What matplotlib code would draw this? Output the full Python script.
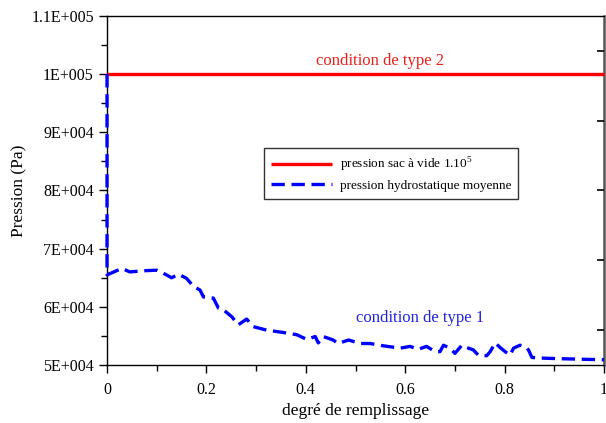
import matplotlib
matplotlib.use('Agg')
import matplotlib.pyplot as plt
from matplotlib.ticker import MultipleLocator, FuncFormatter, NullLocator

plt.rcParams['font.family'] = ['Liberation Serif', 'DejaVu Serif']
plt.rcParams['mathtext.fontset'] = 'custom'
plt.rcParams['mathtext.rm'] = 'Liberation Serif'

# pression sac a vide (condition de type 2)
x_vide = [0.0, 1.0]
p_vide = [1.0e5, 1.0e5]

# pression hydrostatique moyenne (condition de type 1)
x_hydro = [0.0, 0.0, 0.030, 0.046, 0.073, 0.100, 0.113, 0.130, 0.144, 0.160,
           0.174, 0.187, 0.194, 0.214, 0.224, 0.234, 0.251, 0.264, 0.281, 0.294,
           0.321, 0.362, 0.382, 0.402, 0.419, 0.425, 0.435, 0.455, 0.465, 0.486,
           0.509, 0.529, 0.556, 0.590, 0.610, 0.626, 0.643, 0.660, 0.670, 0.677,
           0.690, 0.700, 0.714, 0.727, 0.737, 0.747, 0.764, 0.771, 0.781, 0.791,
           0.801, 0.811, 0.818, 0.831, 0.841, 0.848, 0.855, 0.871, 0.905, 0.952,
           1.000]
p_hydro = [1.0e5, 6.55e4, 6.66e4, 6.60e4, 6.62e4, 6.63e4, 6.58e4, 6.50e4, 6.56e4, 6.49e4,
           6.35e4, 6.29e4, 6.17e4, 6.15e4, 5.98e4, 5.95e4, 5.83e4, 5.69e4, 5.79e4, 5.66e4,
           5.60e4, 5.55e4, 5.52e4, 5.44e4, 5.49e4, 5.38e4, 5.49e4, 5.43e4, 5.37e4, 5.43e4,
           5.37e4, 5.37e4, 5.33e4, 5.29e4, 5.32e4, 5.27e4, 5.32e4, 5.23e4, 5.23e4, 5.34e4,
           5.29e4, 5.20e4, 5.34e4, 5.29e4, 5.26e4, 5.17e4, 5.16e4, 5.23e4, 5.38e4, 5.30e4,
           5.23e4, 5.17e4, 5.29e4, 5.34e4, 5.32e4, 5.26e4, 5.13e4, 5.12e4, 5.11e4, 5.10e4,
           5.09e4]

fig = plt.figure(figsize=(6.06, 4.23), dpi=100)
ax = fig.add_axes([0.1766, 0.1371, 0.8201, 0.8251])

ax.plot(x_vide, p_vide, color='#ff0000', lw=2.4, solid_capstyle='butt',
        label=r'pression sac à vide 1.10$^5$', clip_on=False, zorder=3)
ax.plot(x_hydro, p_hydro, color='#0000ff', lw=2.4, dashes=(4, 2),
        label='pression hydrostatique moyenne', clip_on=False, zorder=4)

ax.set_xlim(0, 1)
ax.set_ylim(5e4, 1.1e5)

ax.xaxis.set_major_locator(MultipleLocator(0.2))
ax.xaxis.set_minor_locator(MultipleLocator(0.1))
ax.yaxis.set_major_locator(MultipleLocator(1e4))
ax.yaxis.set_minor_locator(MultipleLocator(5e3))
ax.xaxis.set_major_formatter(FuncFormatter(lambda v, p: '%g' % round(v, 1)))


def fmt_e(v, p):
    m = v / 1e4 if v < 1e5 else v / 1e5
    e = 4 if v < 1e5 else 5
    return ('%g' % round(m, 2)) + 'E+%03d' % e


ax.yaxis.set_major_formatter(FuncFormatter(fmt_e))

ax.spines['right'].set_color('#555555')
ax.spines['right'].set_linewidth(1.8)
for s in ['left', 'bottom', 'top']:
    ax.spines[s].set_linewidth(1.0)

# petites graduations sur l'axe de droite
ax2 = ax.twinx()
ax2.set_ylim(0, 5)
ax2.set_yticks([0.5, 1.5, 2.5, 3.5, 4.5])
ax2.yaxis.set_minor_locator(NullLocator())
ax2.tick_params(axis='y', which='both', direction='in', length=5, width=1.2,
                left=False, labelleft=False, right=True, labelright=False)
for s in ax2.spines.values():
    s.set_visible(False)

ax.tick_params(which='major', direction='out', length=6, width=1, labelsize=11.5,
               top=False, right=False, labelright=False)
ax.tick_params(which='minor', direction='out', length=4, width=1,
               top=False, right=False)
ax.tick_params(axis='x', pad=6)

ax.set_xlabel('degré de remplissage', fontsize=12.5, labelpad=4)
ax.set_ylabel('Pression (Pa)', fontsize=12.5, labelpad=3)

ax.text(0.55, 1.0e5 + 0.9e3, 'condition de type 2', color='#e8201c',
        fontsize=12, ha='center', va='bottom')
ax.text(0.63, 5.8e4, 'condition de type 1', color='#2222dd',
        fontsize=12, ha='center', va='center')

leg = ax.legend(loc='upper left', bbox_to_anchor=(0.302, 0.64), fontsize=9.5,
                handlelength=4.6, frameon=True, fancybox=False,
                borderpad=0.55, labelspacing=0.45, handletextpad=0.6)
leg.get_frame().set_edgecolor('black')
leg.get_frame().set_linewidth(1.0)
leg.set_zorder(10)

fig.savefig('out.png', dpi=100)
plt.close('all')
